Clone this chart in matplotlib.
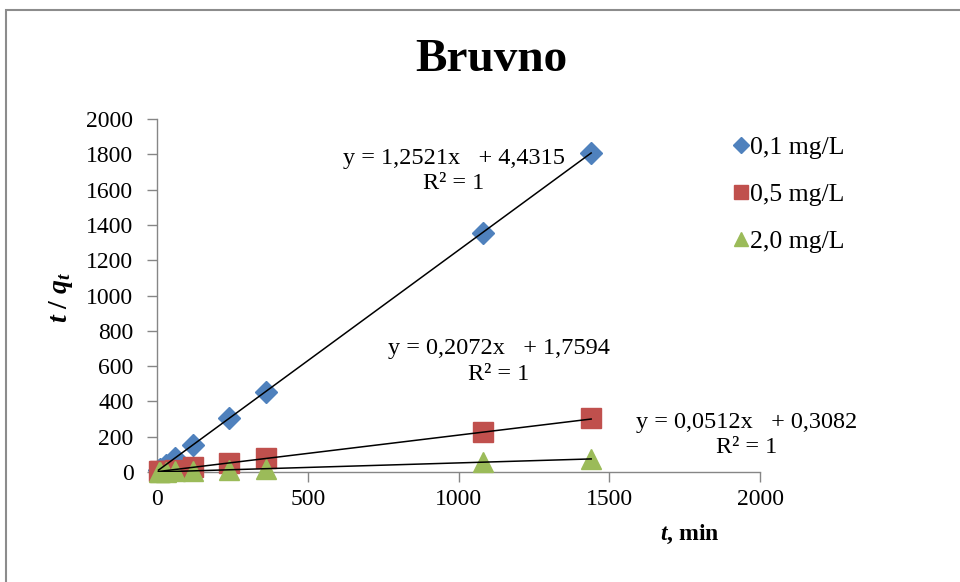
import numpy as np
import matplotlib
matplotlib.use("Agg")
import matplotlib.pyplot as plt
from matplotlib.patches import Rectangle

plt.rcParams["font.family"] = ["Liberation Serif", "DejaVu Serif"]
plt.rcParams["mathtext.fontset"] = "custom"
plt.rcParams["mathtext.it"] = "Liberation Serif:italic:bold"
plt.rcParams["mathtext.rm"] = "Liberation Serif:bold"

# contact time, min
t_min = [5, 10, 30, 60, 120, 240, 360, 1080, 1440]
# t/q_t for each initial concentration
tq_01 = [11, 17, 42, 80, 155, 305, 455, 1355, 1805]
tq_05 = [3, 4, 8, 14, 28, 52, 78, 226, 305]
tq_20 = [1, 1, 2, 3, 7, 13, 19, 56, 74]

# linear trendlines shown on the chart: slope, intercept
slopes = [1.2521, 0.2072, 0.0512]
intercepts = [4.4315, 1.7594, 0.3082]
labels = ["0,1 mg/L", "0,5 mg/L", "2,0 mg/L"]
eq_texts = ["y = 1,2521x   + 4,4315\nR² = 1",
            "y = 0,2072x   + 1,7594\nR² = 1",
            "y = 0,0512x   + 0,3082\nR² = 1"]

colors = ["#4F81BD", "#C0504D", "#9BBB59"]
markers = ["D", "s", "^"]
msizes = [11, 14, 14]

fig = plt.figure(figsize=(9.6, 5.82), dpi=100)
ax = fig.add_axes([157 / 960, 1 - 472 / 582, 603 / 960, 353 / 582])

series = [tq_01, tq_05, tq_20]
for ys, c, m, ms, lab in zip(series, colors, markers, msizes, labels):
    ax.plot(t_min, ys, linestyle="none", marker=m, ms=ms, color=c,
            mec=c, label=lab, zorder=3, clip_on=False)

xs = np.array([t_min[0], t_min[-1]])
for k, b in zip(slopes, intercepts):
    ax.plot(xs, k * xs + b, color="black", lw=1.1, zorder=4)

ax.set_xlim(0, 2000)
ax.set_ylim(0, 2000)
ax.set_xticks(np.arange(0, 2001, 500))
ax.set_yticks(np.arange(0, 2001, 200))
for s in ["top", "right"]:
    ax.spines[s].set_visible(False)
for s in ["left", "bottom"]:
    ax.spines[s].set_color("#868686")
    ax.spines[s].set_linewidth(1.0)
ax.tick_params(direction="out", length=7, width=1.0, color="#868686",
               labelsize=17)
ax.tick_params(axis="y", pad=10)
ax.tick_params(axis="x", pad=5)

# trendline equations
eq_pos = [(985, 1705), (1134, 625), (1957, 210)]
for (x, y), txt in zip(eq_pos, eq_texts):
    ax.text(x, y, txt, ha="center", va="center", fontsize=17.5,
            linespacing=1.3, zorder=5)

fig.text(491 / 960, 1 - 60 / 582, "Bruvno", ha="center", va="center",
         fontsize=34, fontweight="bold")
fig.text(61 / 960, 1 - 297 / 582, r"$t\ /\ q_t$", ha="center", va="center",
         rotation=90, fontsize=20)
fig.text(690 / 960, 1 - 534 / 582, r"$t$, min", ha="center", va="center",
         fontsize=17, fontweight="bold")

leg = ax.legend(loc="upper left", bbox_to_anchor=(0.955, 0.951), frameon=False,
                fontsize=18.5, handlelength=0.6, handletextpad=0.05,
                labelspacing=0.93, borderaxespad=0, borderpad=0,
                markerscale=0.7)

fig.add_artist(Rectangle((6 / 960, -0.05), 1.1, 1 - 10 / 582 + 0.05,
                         transform=fig.transFigure, fill=False,
                         ec="#8c8c8c", lw=1.5))

fig.savefig("out.png", dpi=100)
